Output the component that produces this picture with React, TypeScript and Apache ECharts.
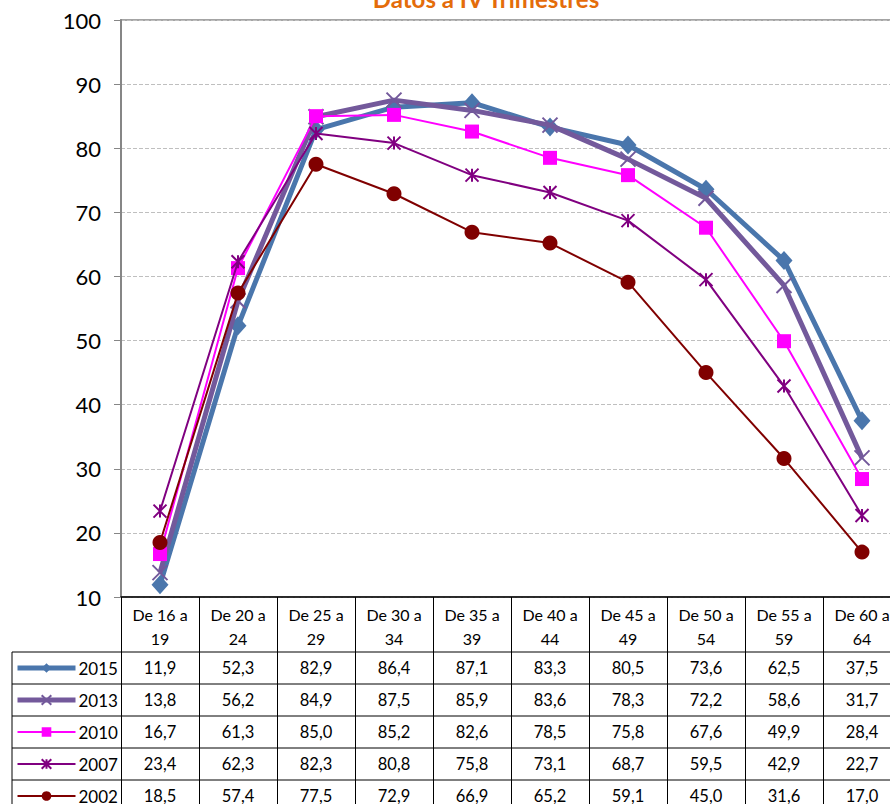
import React, { useEffect, useRef } from "react";
import * as echarts from "echarts";

const categories = [
  "De 16 a 19", "De 20 a 24", "De 25 a 29", "De 30 a 34", "De 35 a 39",
  "De 40 a 44", "De 45 a 49", "De 50 a 54", "De 55 a 59", "De 60 a 64",
];
const seriesNames = ["2015", "2013", "2010", "2007", "2002"];
const v2015 = [11.9, 52.3, 82.9, 86.4, 87.1, 83.3, 80.5, 73.6, 62.5, 37.5];
const v2013 = [13.8, 56.2, 84.9, 87.5, 85.9, 83.6, 78.3, 72.2, 58.6, 31.7];
const v2010 = [16.7, 61.3, 85.0, 85.2, 82.6, 78.5, 75.8, 67.6, 49.9, 28.4];
const v2007 = [23.4, 62.3, 82.3, 80.8, 75.8, 73.1, 68.7, 59.5, 42.9, 22.7];
const v2002 = [18.5, 57.4, 77.5, 72.9, 66.9, 65.2, 59.1, 45.0, 31.6, 17.0];
const allValues = [v2015, v2013, v2010, v2007, v2002];
const titleText = "Datos a IV Trimestres";

const FONT = "Lato, 'Open Sans', sans-serif";

export default function App() {
  const ref = useRef<HTMLDivElement>(null);
  useEffect(() => {
    if (!ref.current) return;
    const chart = echarts.init(ref.current, undefined, { renderer: "svg" });

    const W = 910;
    const H = 860;
    const gridLeft = 121;
    const gridRight = 901;
    const gridTop = 20;
    const gridBottomY = 597;
    const headerBottom = 652;
    const rowH = 32;
    const tableLeft = 12;
    const bandW = (gridRight - gridLeft) / categories.length;

    const colors = ["#4A76AC", "#73599B", "#FF00FF", "#800080", "#800000"];
    const widths = [5, 5, 2, 2, 2];
    const symbols = [
      "diamond",
      "path://M0,0L10,10M10,0L0,10",
      "rect",
      "path://M0,0L10,10M10,0L0,10M5,0L5,10",
      "circle",
    ];
    const sizes: any[] = [[17, 19], 15, 14, 13, 15];

    const series = allValues.map((vals, i) => {
      const stroke = symbols[i].startsWith("path://");
      return {
        name: seriesNames[i],
        type: "line",
        data: vals,
        symbol: symbols[i],
        symbolSize: sizes[i],
        showAllSymbol: true,
        lineStyle: { color: colors[i], width: widths[i] },
        itemStyle: stroke
          ? { color: colors[i], borderColor: colors[i], borderWidth: 2 }
          : { color: colors[i] },
        emphasis: { disabled: true },
        z: 2 + i,
      };
    });

    const graphics: any[] = [];
    graphics.push({
      type: "text",
      x: 486,
      y: 10,
      style: {
        text: titleText,
        fill: "#E46C0A",
        font: `bold 24px ${FONT}`,
        align: "center",
        verticalAlign: "bottom",
      },
    });
    for (let r = 0; r <= seriesNames.length; r++) {
      const y = headerBottom + r * rowH;
      graphics.push({
        type: "line",
        shape: { x1: tableLeft, y1: y, x2: gridRight, y2: y },
        style: { stroke: "#000", lineWidth: 1 },
        z: 10,
      });
    }
    graphics.push({
      type: "line",
      shape: { x1: tableLeft, y1: headerBottom, x2: tableLeft, y2: 830 },
      style: { stroke: "#000", lineWidth: 1 },
      z: 10,
    });
    allValues.forEach((vals, r) => {
      vals.forEach((v, c) => {
        graphics.push({
          type: "text",
          x: gridLeft + bandW * (c + 0.5),
          y: headerBottom + r * rowH + rowH / 2,
          style: {
            text: v.toFixed(1).replace(".", ","),
            fill: "#000",
            font: `16.5px ${FONT}`,
            align: "center",
            verticalAlign: "middle",
          },
          z: 10,
        });
      });
    });

    chart.setOption({
      animation: false,
      textStyle: { fontFamily: FONT },
      graphic: graphics,
      legend: {
        data: seriesNames.map((n, i) => ({
          name: n,
          lineStyle: { width: widths[i] === 5 ? 5 : 2 },
        })),
        orient: "vertical",
        left: 15,
        top: headerBottom + 6,
        padding: 0,
        itemWidth: 58,
        itemHeight: 12,
        itemGap: 12,
        selectedMode: false,
        textStyle: { fontSize: 17, color: "#000", lineHeight: 20, padding: [0, 0, 0, -2] },
      },
      grid: {
        left: gridLeft,
        right: W - gridRight,
        top: gridTop,
        bottom: H - gridBottomY,
        show: true,
        borderColor: "#868686",
        borderWidth: 1.5,
        containLabel: false,
      },
      xAxis: {
        type: "category",
        data: categories,
        boundaryGap: true,
        axisLine: { lineStyle: { color: "#000", width: 1.5 } },
        axisTick: {
          show: true,
          alignWithLabel: false,
          interval: 0,
          length: 240,
          lineStyle: { color: "#000", width: 1 },
        },
        axisLabel: {
          interval: 0,
          margin: 5,
          fontSize: 16,
          lineHeight: 24,
          color: "#000",
          formatter: (s: string) => s.replace(" a ", " a\n"),
        },
        splitLine: { show: false },
      },
      yAxis: {
        type: "value",
        min: 10,
        max: 100,
        interval: 10,
        axisLine: { show: true, lineStyle: { color: "#868686", width: 2 } },
        axisTick: { show: true, length: 7, lineStyle: { color: "#868686" } },
        axisLabel: { fontSize: 22, color: "#000", margin: 20 },
        splitLine: { show: true, lineStyle: { color: "#BFBFBF", type: "dashed", width: 1 } },
      },
      series,
    });
    return () => chart.dispose();
  }, []);
  return (
    <div
      ref={ref}
      style={{ position: "fixed", left: 0, top: 0, width: 910, height: 860, background: "#fff" }}
    />
  );
}
